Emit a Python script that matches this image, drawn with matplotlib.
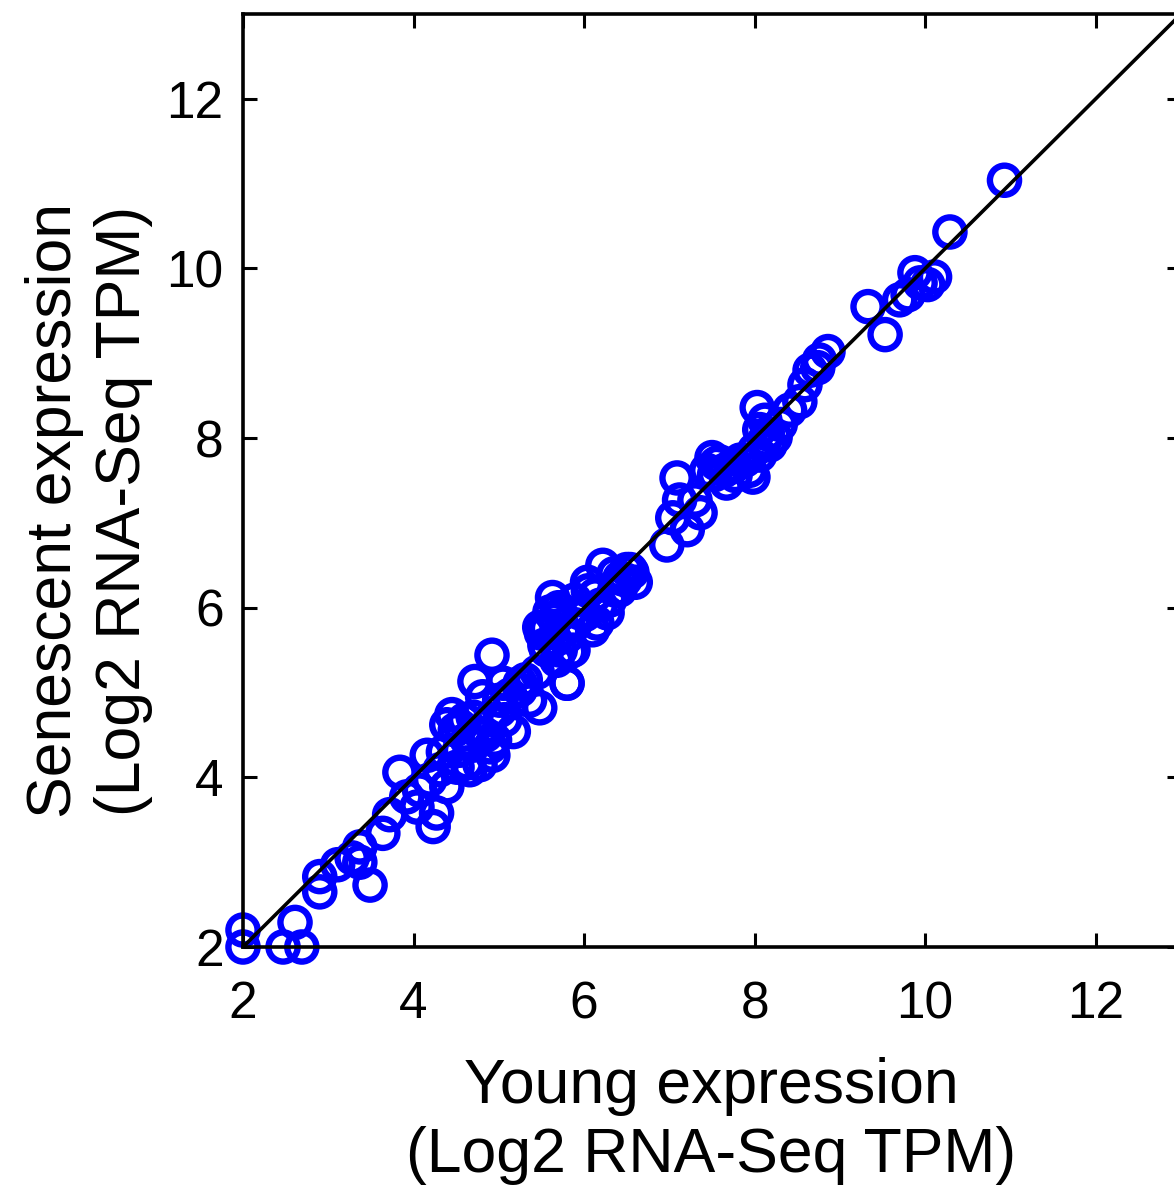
import matplotlib
matplotlib.use("Agg")
import matplotlib.pyplot as plt

plt.rcParams['font.family'] = ['Liberation Sans', 'DejaVu Sans']

young = [2.00, 2.00, 2.47, 2.61, 2.69, 2.90, 2.90, 3.11, 3.28, 3.37, 3.37, 3.49, 3.64, 4.23,
         3.72, 3.84, 3.92, 4.04, 4.16, 4.27, 4.39, 4.51, 4.63, 4.70, 4.07, 4.19, 4.31,
         4.92, 4.72, 4.45, 4.39, 4.54, 4.90, 5.17, 5.48, 5.80, 5.87, 5.56, 5.45, 5.25,
         5.05, 4.81, 4.90, 4.78, 4.63, 5.13, 5.01, 5.48, 6.10, 4.70, 4.93,
         6.22, 6.56, 6.48, 6.04, 5.63, 5.56, 5.95, 6.27, 6.15, 5.80, 5.66, 5.72, 5.89,
         6.13, 6.36, 5.36,
         6.97, 7.09, 7.12, 7.04, 7.21, 7.36, 7.30, 7.44, 7.67, 7.98, 7.50, 7.59,
         8.03, 8.12, 8.24, 8.30, 8.41, 8.53, 7.94, 7.83, 8.06, 8.18,
         8.59, 8.65, 8.74, 8.86, 8.76,
         10.93, 10.29, 9.88, 10.11, 10.03, 9.70, 9.33, 9.53, 9.80, 9.94,
         6.42, 6.54, 6.60, 5.80, 5.83, 5.68,
         4.49, 4.60, 4.78, 4.66, 4.95, 5.07, 5.01, 5.25, 5.31,
         5.66, 5.77, 5.89, 6.01, 6.19, 6.30, 6.42, 5.54, 5.72,
         7.65, 7.77, 7.89, 8.00, 8.12, 7.77, 7.53, 8.06,
         5.50, 5.60, 5.70, 6.05, 6.35, 6.50, 7.55, 7.72, 8.15, 4.35, 4.55, 4.85]
senescent = [2.20, 2.00, 2.00, 2.29, 2.00, 2.83, 2.65, 2.97, 3.05, 3.18, 3.00, 2.73, 3.34, 3.42,
             3.56, 4.06, 3.77, 3.65, 4.26, 3.58, 3.89, 4.12, 4.17, 4.38, 3.85, 3.97, 4.09,
             5.44, 5.13, 4.74, 4.62, 4.32, 4.36, 4.54, 4.82, 5.11, 5.50, 5.50, 5.24, 5.11,
             5.11, 4.95, 4.68, 4.52, 4.44, 4.97, 4.79, 5.77, 5.74, 4.71, 4.26,
             6.50, 6.42, 6.33, 6.30, 6.12, 5.76, 5.94, 5.94, 5.82, 5.66, 5.62, 5.92, 6.09,
             6.15, 6.21, 4.91,
             6.74, 7.53, 7.27, 7.06, 6.92, 7.12, 7.27, 7.62, 7.47, 7.54, 7.77, 7.72,
             8.36, 8.21, 8.01, 8.16, 8.33, 8.43, 7.62, 7.74, 7.80, 7.92,
             8.63, 8.80, 8.83, 9.02, 8.92,
             11.04, 10.43, 9.95, 9.90, 9.81, 9.63, 9.55, 9.22, 9.69, 9.83,
             6.35, 6.45, 6.30, 5.11, 5.48, 5.38,
             4.56, 4.68, 4.15, 4.09, 4.44, 4.68, 4.91, 5.03, 5.15,
             5.86, 5.74, 5.80, 5.92, 6.03, 6.09, 6.21, 5.56, 5.50,
             7.62, 7.68, 7.74, 7.86, 7.98, 7.56, 7.57, 8.10,
             5.70, 5.95, 6.00, 6.20, 6.40, 6.45, 7.70, 7.66, 8.05, 4.30, 4.60, 4.50]

identity = [2, 13]
ticks = [2, 4, 6, 8, 10, 12]

W, H = 1174, 1190
fig = plt.figure(figsize=(W / 100, H / 100), dpi=100)
ax = fig.add_axes([243 / W, (H - 947) / H, 938 / W, 933 / H])

ax.plot(identity, identity, color='black', lw=2.6, zorder=3)
ax.scatter(young, senescent, s=21 ** 2, facecolors='none', edgecolors='#0000ff',
           linewidths=4.6, zorder=2, clip_on=False)

ax.set_xlim(2, 13)
ax.set_ylim(2, 13)
ax.set_xticks(ticks)
ax.set_yticks(ticks)
ax.tick_params(direction='in', length=10, width=2.2, labelsize=37,
               top=True, right=True)
ax.tick_params(axis='x', pad=24)
ax.tick_params(axis='y', pad=14)
for sp in ax.spines.values():
    sp.set_linewidth(2.6)

fig.text(711 / W, 1 - 1121 / H, 'Young expression\n(Log2 RNA-Seq TPM)', fontsize=45,
         ha='center', va='center', multialignment='center', linespacing=1.2)
fig.text(89 / W, 1 - 511 / H, 'Senescent expression\n(Log2 RNA-Seq TPM)', fontsize=45,
         ha='center', va='center', multialignment='center', rotation=90,
         linespacing=1.2)

fig.savefig('out.png', dpi=100)
